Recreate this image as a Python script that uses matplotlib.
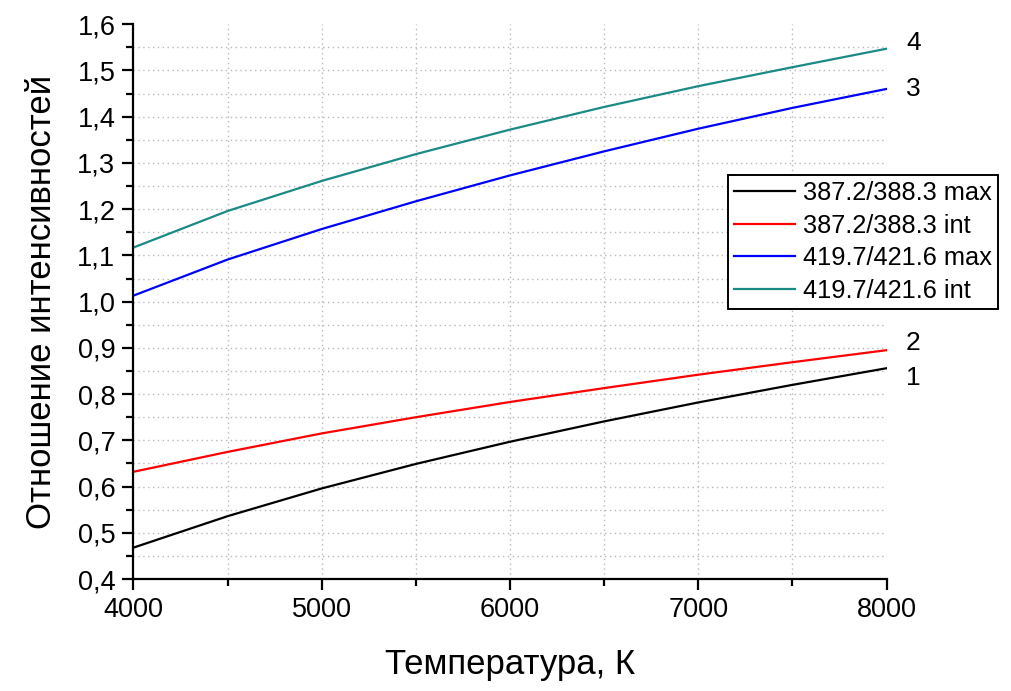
import matplotlib
matplotlib.use("Agg")
import matplotlib.pyplot as plt
from matplotlib.ticker import MultipleLocator, FuncFormatter

plt.rcParams['font.family'] = ['Liberation Sans', 'DejaVu Sans']

temperature = [4000, 4500, 5000, 5500, 6000, 6500, 7000, 7500, 8000]
r387_max = [0.468, 0.536, 0.596, 0.649, 0.697, 0.741, 0.782, 0.820, 0.856]
r387_int = [0.632, 0.675, 0.715, 0.750, 0.783, 0.813, 0.842, 0.869, 0.895]
r419_max = [1.013, 1.091, 1.157, 1.217, 1.273, 1.325, 1.374, 1.419, 1.460]
r419_int = [1.117, 1.196, 1.261, 1.319, 1.372, 1.421, 1.466, 1.507, 1.547]

labels = ["387.2/388.3 max", "387.2/388.3 int", "419.7/421.6 max", "419.7/421.6 int"]
curve_numbers = ["1", "2", "3", "4"]
colors = ["#000000", "#ff0000", "#0000ff", "#1b8a85"]
series = [r387_max, r387_int, r419_max, r419_int]

fig = plt.figure(figsize=(10.11, 6.91), dpi=100)
ax = fig.add_axes([0.132, 0.162, 0.745, 0.803])

for ys, c, lab in zip(series, colors, labels):
    ax.plot(temperature, ys, color=c, lw=1.6, label=lab, solid_joinstyle='round')

# curve number labels at right ends
offsets = [-7, 5, 0, 4]
for ys, num, off in zip(series, curve_numbers, offsets):
    ax.annotate(num, xy=(temperature[-1], ys[-1]), xytext=(14, off),
                textcoords='offset points', fontsize=19, va='center', ha='left',
                annotation_clip=False)

ax.set_xlim(4000, 8000)
ax.set_ylim(0.4, 1.6)
ax.xaxis.set_major_locator(MultipleLocator(1000))
ax.xaxis.set_minor_locator(MultipleLocator(500))
ax.yaxis.set_major_locator(MultipleLocator(0.1))
ax.yaxis.set_minor_locator(MultipleLocator(0.05))
ax.yaxis.set_major_formatter(FuncFormatter(lambda v, p: f"{v:.1f}".replace('.', ',')))

for s in ['top', 'right']:
    ax.spines[s].set_visible(False)
for s in ['left', 'bottom']:
    ax.spines[s].set_linewidth(1.6)

ax.tick_params(which='major', direction='out', length=8, width=1.6, labelsize=19.5, pad=5)
ax.tick_params(which='minor', direction='out', length=5, width=1.6)

ax.grid(True, which='both', linestyle=(0, (1, 2.5)), color='#b8b8b8', linewidth=1.0)
ax.set_axisbelow(True)

fig.canvas.draw()
for t in ax.yaxis.get_major_ticks() + ax.yaxis.get_minor_ticks():
    if abs(t.get_loc() - 1.6) < 1e-6 or abs(t.get_loc() - 0.4) < 1e-6:
        t.gridline.set_visible(False)
for t in ax.xaxis.get_major_ticks() + ax.xaxis.get_minor_ticks():
    if abs(t.get_loc() - 8000) < 1e-6 or abs(t.get_loc() - 4000) < 1e-6:
        t.gridline.set_visible(False)

ax.set_xlabel("Температура, К", fontsize=25, labelpad=18)
ax.set_ylabel("Отношение интенсивностей", fontsize=25, labelpad=14)

leg = ax.legend(loc='upper left', bbox_to_anchor=(728 / 1011, 1 - 175 / 691),
                bbox_transform=fig.transFigure, fontsize=18.3, frameon=True,
                fancybox=False, edgecolor='black', framealpha=1,
                handlelength=2.4, handletextpad=0.3, borderpad=0.25,
                labelspacing=0.33, borderaxespad=0)
leg.get_frame().set_linewidth(1.4)

fig.savefig("out.png", dpi=100)
